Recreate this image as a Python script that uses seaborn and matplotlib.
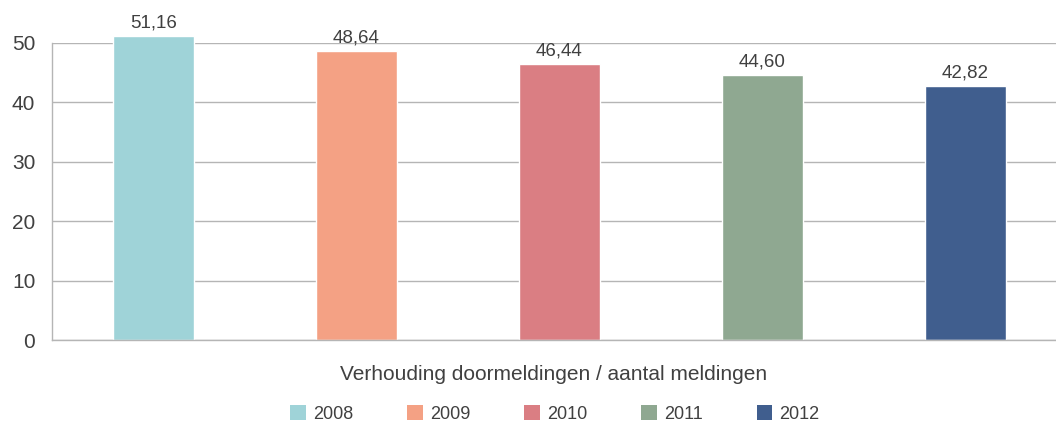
import matplotlib
matplotlib.use("Agg")
import matplotlib.pyplot as plt
import seaborn as sns
import pandas as pd
from matplotlib.patches import Patch

years = ["2008", "2009", "2010", "2011", "2012"]
values = [51.16, 48.64, 46.44, 44.60, 42.82]
colors = ["#9fd3d8", "#f4a184", "#da7e83", "#8fa891", "#405e8e"]
yticks = [0, 10, 20, 30, 40, 50]
xlabel = "Verhouding doormeldingen / aantal meldingen"

sns.set_theme(style="white")
plt.rcParams["font.family"] = ["Liberation Sans", "DejaVu Sans"]
text_color = "#404040"

df = pd.DataFrame({"jaar": years, "waarde": values})

fig = plt.figure(figsize=(10.56, 4.23), dpi=100)
ax = fig.add_axes([52 / 1056, (423 - 340) / 423, 1 - 52 / 1056, (340 - 43) / 423])

sns.barplot(data=df, x="jaar", y="waarde", hue="jaar", palette=colors,
            dodge=False, width=0.40, legend=False, ax=ax, saturation=1)

for bar in ax.patches:
    bar.set_clip_on(False)

for i, v in enumerate(values):
    ax.text(i, v + 0.7, f"{v:.2f}".replace(".", ","), ha="center", va="bottom",
            fontsize=13.5, color=text_color)

ax.set_ylim(0, 50)
ax.set_xlim(-0.5, 4.446)
ax.set_yticks(yticks)
ax.set_yticklabels([str(t) for t in yticks], fontsize=15, color=text_color)
ax.tick_params(axis="y", length=0, pad=12)
ax.set_xticks([])
ax.set_xlabel(xlabel, fontsize=15, color=text_color, labelpad=18)
ax.set_ylabel("")
ax.yaxis.grid(True, color="#b5b5b5", linewidth=1)
ax.set_axisbelow(True)
for side in ["top", "right"]:
    ax.spines[side].set_visible(False)
ax.spines["left"].set_color("#b5b5b5")
ax.spines["bottom"].set_color("#b5b5b5")
ax.spines["left"].set_linewidth(1)
ax.spines["bottom"].set_linewidth(1)

handles = [Patch(facecolor=c, edgecolor="none") for c in colors]
fig.legend(handles, years, loc="center", bbox_to_anchor=(555 / 1056, 1 - 414 / 423),
           ncol=5, frameon=False, fontsize=13, handlelength=0.85, handleheight=0.85,
           columnspacing=3.0, handletextpad=0.4, labelcolor=text_color)

fig.savefig("out.png", dpi=100, facecolor="white")
